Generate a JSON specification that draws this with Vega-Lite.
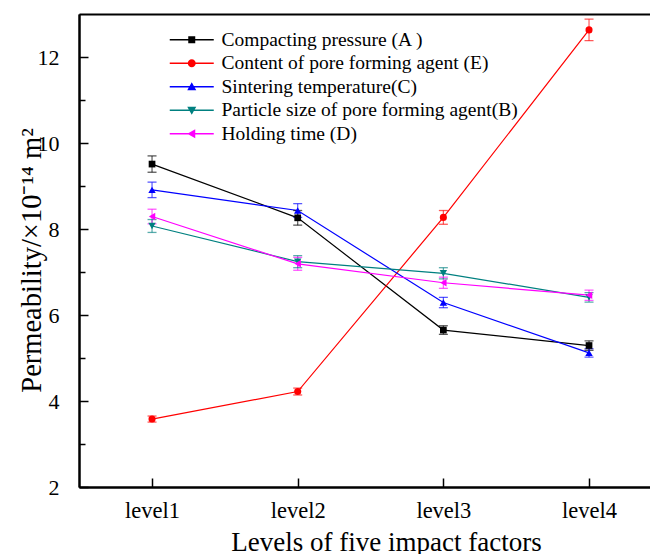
{
  "$schema": "https://vega.github.io/schema/vega-lite/v6.json",
  "autosize": "none",
  "width": 571,
  "height": 473,
  "padding": {"left": 79, "top": 14, "right": 0, "bottom": 67},
  "background": "white",
  "config": {
    "view": {"stroke": null},
    "font": "Liberation Serif",
    "axis": {"labelFont": "Liberation Serif", "titleFont": "Liberation Serif", "labelColor": "black", "titleColor": "black", "domainColor": "black", "tickColor": "black", "titleFontWeight": "normal", "grid": false},
    "legend": {"labelFont": "Liberation Serif"}
  },
  "data": {"values": [
    {"factor": "Compacting pressure (A )", "level": "level1", "value": 9.51, "lo": 9.32, "hi": 9.70},
    {"factor": "Compacting pressure (A )", "level": "level2", "value": 8.26, "lo": 8.09, "hi": 8.43},
    {"factor": "Compacting pressure (A )", "level": "level3", "value": 5.65, "lo": 5.55, "hi": 5.75},
    {"factor": "Compacting pressure (A )", "level": "level4", "value": 5.29, "lo": 5.18, "hi": 5.40},
    {"factor": "Content of pore forming agent (E)", "level": "level1", "value": 3.58, "lo": 3.51, "hi": 3.65},
    {"factor": "Content of pore forming agent (E)", "level": "level2", "value": 4.22, "lo": 4.14, "hi": 4.30},
    {"factor": "Content of pore forming agent (E)", "level": "level3", "value": 8.27, "lo": 8.11, "hi": 8.43},
    {"factor": "Content of pore forming agent (E)", "level": "level4", "value": 12.63, "lo": 12.38, "hi": 12.88},
    {"factor": "Sintering temperature(C)", "level": "level1", "value": 8.91, "lo": 8.73, "hi": 9.09},
    {"factor": "Sintering temperature(C)", "level": "level2", "value": 8.43, "lo": 8.27, "hi": 8.59},
    {"factor": "Sintering temperature(C)", "level": "level3", "value": 6.29, "lo": 6.17, "hi": 6.41},
    {"factor": "Sintering temperature(C)", "level": "level4", "value": 5.12, "lo": 5.02, "hi": 5.22},
    {"factor": "Particle size of pore forming agent(B)", "level": "level1", "value": 8.07, "lo": 7.92, "hi": 8.22},
    {"factor": "Particle size of pore forming agent(B)", "level": "level2", "value": 7.24, "lo": 7.10, "hi": 7.38},
    {"factor": "Particle size of pore forming agent(B)", "level": "level3", "value": 6.97, "lo": 6.84, "hi": 7.10},
    {"factor": "Particle size of pore forming agent(B)", "level": "level4", "value": 6.41, "lo": 6.30, "hi": 6.52},
    {"factor": "Holding time (D)", "level": "level1", "value": 8.29, "lo": 8.12, "hi": 8.46},
    {"factor": "Holding time (D)", "level": "level2", "value": 7.19, "lo": 7.04, "hi": 7.34},
    {"factor": "Holding time (D)", "level": "level3", "value": 6.75, "lo": 6.62, "hi": 6.88},
    {"factor": "Holding time (D)", "level": "level4", "value": 6.46, "lo": 6.34, "hi": 6.58}
  ]},
  "resolve": {"axis": {"x": "independent", "y": "independent"}},
  "layer": [
    {
      "mark": {"type": "line", "strokeWidth": 1.2},
      "encoding": {
        "x": {"field": "level", "type": "ordinal", "scale": {"type": "point", "domain": ["level1", "level2", "level3", "level4"], "padding": 0.46, "align": 0.545},
              "axis": {"orient": "bottom", "title": "Levels of five impact factors", "titleFontSize": 27, "labelFontSize": 22.5, "labelAngle": 0, "ticks": false, "domain": true, "domainColor": "black", "domainWidth": 2, "labelPadding": 12, "titlePadding": 8, "titleX": 307}},
        "y": {"field": "value", "type": "quantitative", "scale": {"domain": [2, 13], "nice": false, "zero": false},
              "axis": {"orient": "left", "title": "Permeability/×10⁻¹⁴ m²", "titleFontSize": 28.5, "labelFontSize": 22, "values": [2, 4, 6, 8, 10, 12], "ticks": false, "domain": true, "domainColor": "black", "domainWidth": 2, "labelPadding": 20, "titlePadding": -9, "titleY": 246}},
        "stroke": {"field": "factor", "type": "nominal", "legend": null,
                  "scale": {"range": ["#000000", "#FF0000", "#FF00FF", "#008080", "#0000FF"]}}
      }
    },
    {
      "mark": {"type": "rule", "strokeWidth": 1.2, "opacity": 0.65},
      "encoding": {
        "x": {"field": "level", "type": "ordinal", "axis": {"orient": "top", "labels": false, "ticks": false, "title": null, "domain": true, "domainWidth": 2, "domainColor": "black"}},
        "y": {"field": "lo", "type": "quantitative", "axis": {"orient": "left", "values": [2, 4, 6, 8, 10, 12], "labels": false, "tickSize": 9, "tickWidth": 1.5, "offset": -9, "domain": false, "title": null}},
        "y2": {"field": "hi"},
        "stroke": {"field": "factor", "type": "nominal", "legend": null}
      }
    },
    {
      "transform": [{"fold": ["lo", "hi"], "as": ["end", "cap"]}],
      "mark": {"type": "tick", "orient": "horizontal", "size": 9, "thickness": 1.3, "opacity": 0.65},
      "encoding": {
        "x": {"field": "level", "type": "ordinal", "axis": {"orient": "bottom", "labels": false, "tickSize": 9, "tickWidth": 1.5, "offset": -9, "domain": false, "title": null}},
        "y": {"field": "cap", "type": "quantitative", "axis": {"orient": "left", "values": [3, 5, 7, 9, 11], "labels": false, "tickSize": 6, "tickWidth": 1.5, "offset": -6, "domain": false, "title": null}},
        "fill": {"field": "factor", "type": "nominal", "legend": null,
                  "scale": {"range": ["#000000", "#FF0000", "#FF00FF", "#008080", "#0000FF"]}}
      }
    },
    {
      "transform": [{"filter": "datum.factor === 'Compacting pressure (A )'"}],
      "mark": {"type": "point", "filled": true, "opacity": 1, "shape": "square", "size": 45},
      "encoding": {
        "x": {"field": "level", "type": "ordinal", "axis": {"orient": "bottom", "labels": false, "ticks": false, "title": null, "domain": true, "domainWidth": 2, "domainColor": "black"}},
        "y": {"field": "value", "type": "quantitative", "axis": {"orient": "left", "labels": false, "ticks": false, "title": null, "domain": true, "domainWidth": 2, "domainColor": "black"}},
        "fill": {"field": "factor", "type": "nominal", "legend": null}
      }
    },
    {
      "transform": [{"filter": "datum.factor === 'Content of pore forming agent (E)'"}],
      "mark": {"type": "point", "filled": true, "opacity": 1, "shape": "circle", "size": 50},
      "encoding": {
        "x": {"field": "level", "type": "ordinal", "axis": null},
        "y": {"field": "value", "type": "quantitative", "axis": null},
        "fill": {"field": "factor", "type": "nominal", "legend": null}
      }
    },
    {
      "transform": [{"filter": "datum.factor === 'Sintering temperature(C)'"}],
      "mark": {"type": "point", "filled": true, "opacity": 1, "shape": "triangle-up", "size": 55},
      "encoding": {
        "x": {"field": "level", "type": "ordinal", "axis": null},
        "y": {"field": "value", "type": "quantitative", "axis": null},
        "fill": {"field": "factor", "type": "nominal", "legend": null}
      }
    },
    {
      "transform": [{"filter": "datum.factor === 'Particle size of pore forming agent(B)'"}],
      "mark": {"type": "point", "filled": true, "opacity": 1, "shape": "triangle-down", "size": 55},
      "encoding": {
        "x": {"field": "level", "type": "ordinal", "axis": null},
        "y": {"field": "value", "type": "quantitative", "axis": null},
        "fill": {"field": "factor", "type": "nominal", "legend": null}
      }
    },
    {
      "transform": [{"filter": "datum.factor === 'Holding time (D)'"}],
      "mark": {"type": "point", "filled": true, "opacity": 1, "shape": "triangle-left", "size": 55},
      "encoding": {
        "x": {"field": "level", "type": "ordinal", "axis": null},
        "y": {"field": "value", "type": "quantitative", "axis": null},
        "fill": {"field": "factor", "type": "nominal", "legend": null}
      }
    },
    {
      "mark": {"type": "point", "filled": true, "opacity": 0, "size": 1},
      "encoding": {
        "x": {"field": "level", "type": "ordinal", "axis": null},
        "y": {"field": "value", "type": "quantitative", "axis": null},
        "color": {"field": "factor", "type": "nominal",
                  "scale": {"domain": ["Compacting pressure (A )", "Content of pore forming agent (E)", "Sintering temperature(C)", "Particle size of pore forming agent(B)", "Holding time (D)"],
                            "range": ["#000000", "#FF0000", "#0000FF", "#008080", "#FF00FF"]},
                  "legend": {"orient": "none", "legendX": 103, "legendY": 16, "title": null, "labelFontSize": 19.5, "labelColor": "black", "symbolSize": 100, "symbolOpacity": 1, "symbolStrokeWidth": 0, "labelOffset": 20, "rowPadding": 2.5, "labelLimit": 400}},
        "shape": {"field": "factor", "type": "nominal",
                  "scale": {"domain": ["Compacting pressure (A )", "Content of pore forming agent (E)", "Sintering temperature(C)", "Particle size of pore forming agent(B)", "Holding time (D)"],
                            "range": ["M-4.4,-0.13H4.4V0.13H-4.4ZM-0.7,-0.7H0.7V0.7H-0.7Z", "M-4.4,-0.13H4.4V0.13H-4.4ZM0.8,0A0.8,0.8 0 1,1 -0.8,0A0.8,0.8 0 1,1 0.8,0Z", "M-4.4,-0.13H4.4V0.13H-4.4ZM0,-0.9L0.9,0.7L-0.9,0.7Z", "M-4.4,-0.13H4.4V0.13H-4.4ZM0,0.9L-0.9,-0.7L0.9,-0.7Z", "M-4.4,-0.13H4.4V0.13H-4.4ZM-0.9,0L0.7,-0.9L0.7,0.9Z"]},
                  "legend": {"orient": "none", "legendX": 103, "legendY": 16, "title": null, "labelFontSize": 19.5, "labelColor": "black", "symbolSize": 100, "symbolOpacity": 1, "symbolStrokeWidth": 0, "labelOffset": 20, "rowPadding": 2.5, "labelLimit": 400}}
      }
    }
  ]
}
